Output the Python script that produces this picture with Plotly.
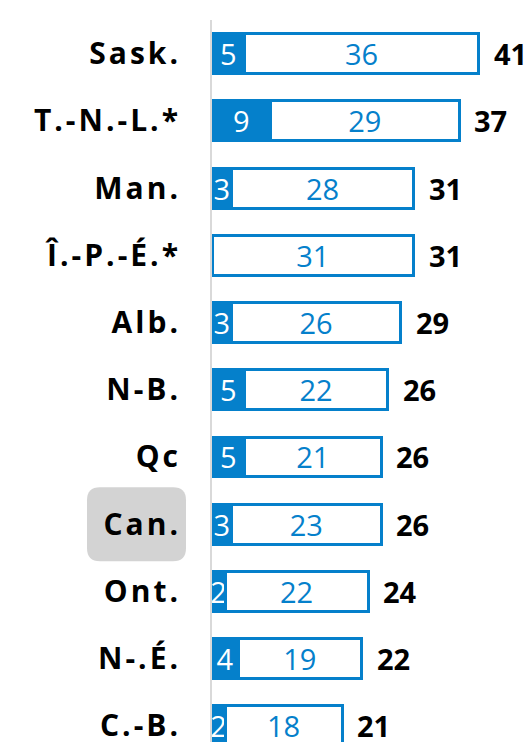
"""Stacked horizontal bars by province, reproduced with Plotly."""

import plotly.graph_objects as go

provinces = ["Sask.", "T.-N.-L.*", "Man.", "Î.-P.-É.*", "Alb.", "N-B.", "Qc",
             "Can.", "Ont.", "N-.É.", "C.-B."]
first_part = [5, 9, 3, 0, 3, 5, 5, 3, 2, 4, 2]
second_part = [36, 29, 28, 31, 26, 22, 21, 23, 22, 19, 18]
totals = [41, 37, 31, 31, 29, 26, 26, 26, 24, 22, 21]

BLUE = "#0580cb"
rows = list(range(len(provinces)))


def spaced(label):
    # mimic the wide letter spacing of the original labels
    return "\u200a".join(label)


fig = go.Figure()
fig.add_trace(go.Bar(
    y=rows, x=first_part, orientation="h",
    marker=dict(color=BLUE, line=dict(color=BLUE, width=3)),
    text=[str(v) if v else "" for v in first_part],
    textposition="inside", insidetextanchor="middle", textangle=0,
    insidetextfont=dict(family="Open Sans", size=29, color="white"),
    hoverinfo="skip",
))
fig.add_trace(go.Bar(
    y=rows, x=second_part, orientation="h",
    marker=dict(color="white", line=dict(color=BLUE, width=3)),
    text=[str(v) for v in second_part],
    textposition="inside", insidetextanchor="middle", textangle=0,
    insidetextfont=dict(family="Open Sans", size=29, color=BLUE),
    hoverinfo="skip",
))

for r, a, b, t in zip(rows, first_part, second_part, totals):
    fig.add_annotation(
        x=a + b, y=r, text=str(t), showarrow=False,
        xanchor="left", xshift=13,
        font=dict(family="Open Sans", size=29, color="black", weight="bold"),
    )

# grey rounded highlight behind "Can."
fig.add_shape(
    type="path", xref="paper", yref="y", xsizemode="pixel", ysizemode="pixel",
    xanchor=0, yanchor=provinces.index("Can."),
    path=("M -112,-37 L -39,-37 Q -26,-37 -26,-24 L -26,24 Q -26,37 -39,37 "
          "L -112,37 Q -125,37 -125,24 L -125,-24 Q -125,-37 -112,-37 Z"),
    fillcolor="#d3d3d3", line=dict(width=0), layer="below",
)

# the page body adds an 8px margin, so the figure is 8px smaller on each side
fig.update_layout(
    width=524, height=737,
    margin=dict(l=204, r=0, t=12, b=0),
    barmode="stack", bargap=0.407,
    showlegend=False,
    plot_bgcolor="white", paper_bgcolor="white",
    uniformtext=dict(minsize=29, mode="show"),
    xaxis=dict(range=[0, 49.2], visible=False),
    yaxis=dict(
        range=[10.24, -0.5],
        tickvals=rows, ticktext=[spaced(p) for p in provinces],
        tickfont=dict(family="Open Sans", size=30, color="black", weight="bold"),
        ticks="", ticklabelstandoff=26, ticklabeloverflow="allow",
        showgrid=False, zeroline=False,
        showline=True, linecolor="#d9d9d9", linewidth=2, layer="below traces",
    ),
)

fig.write_html("out.html")
